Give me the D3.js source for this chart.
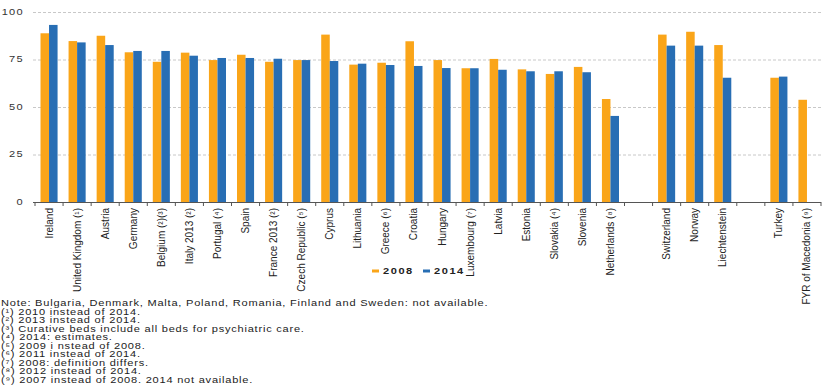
<!DOCTYPE html>
<html>
<head>
<meta charset="utf-8">
<style>
body { margin: 0; background: #fff; }
text { font-family: Arial, "Liberation Sans", sans-serif; }
.tick-y { font-size: 8.5px; fill: #333; letter-spacing: 1px; }
.cat { font-family: "Liberation Sans Narrow", "Arial Narrow", sans-serif; font-size: 10px; fill: #222; }
.legend { font-size: 8.5px; font-weight: bold; fill: #222; letter-spacing: 1.2px; }
.note { font-size: 8.5px; fill: #222; letter-spacing: 0.6px; }
</style>
</head>
<body>
<script src="https://cdn.jsdelivr.net/npm/d3@7"></script>
<script>

// categories ("" = empty slot between groups)
var categories = ["Ireland", "United Kingdom (\u00b9)", "Austria", "Germany", "Belgium (\u00b2)(\u00b3)",
  "Italy 2013 (\u00b2)", "Portugal (\u2074)", "Spain", "France 2013 (\u00b2)", "Czech Republic (\u2075)",
  "Cyprus", "Lithuania", "Greece (\u2076)", "Croatia", "Hungary", "Luxembourg (\u2077)", "Latvia",
  "Estonia", "Slovakia (\u2074)", "Slovenia", "Netherlands (\u2078)", "",
  "Switzerland", "Norway", "Liechtenstein", " ", "Turkey", "FYR of Macedonia (\u2079)"];

var values2008 = [88.8, 84.7, 87.5, 78.8, 73.8, 78.6, 74.7, 77.5, 73.8, 74.7,
  88.1, 72.3, 73.3, 84.6, 74.7, 70.4, 75.3, 69.8, 67.4, 71.1, 54.2, null,
  88.1, 89.6, 82.6, null, 65.4, 53.8];

var values2014 = [93.2, 84.0, 82.6, 79.5, 79.5, 77.0, 75.8, 75.8, 75.4, 74.7,
  74.2, 72.8, 72.1, 71.6, 70.5, 70.4, 69.6, 68.8, 68.8, 68.3, 45.3, null,
  82.3, 82.3, 65.4, null, 66.0, null];

var yTicks = [0, 25, 50, 75, 100];

var seriesNames = ["2008", "2014"];
var seriesColors = ["#faa519", "#286eb4"];

var notes = [
  "Note: Bulgaria, Denmark, Malta, Poland, Romania, Finland and Sweden: not available.",
  "(\u00b9) 2010 instead of 2014.",
  "(\u00b2) 2013 instead of 2014.",
  "(\u00b3) Curative beds include all beds for psychiatric care.",
  "(\u2074) 2014: estimates.",
  "(\u2075) 2009 i nstead of 2008.",
  "(\u2076) 2011 instead of 2014.",
  "(\u2077) 2008: definition differs.",
  "(\u2078) 2012 instead of 2014.",
  "(\u2079) 2007 instead of 2008. 2014 not available."
];

var width = 838, height = 386;
var margin = {left: 35, right: 17, top: 12, bottom: 184};

var svg = d3.select("body").append("svg")
    .attr("width", width)
    .attr("height", height);

var x = d3.scaleBand()
    .domain(categories)
    .range([margin.left, width - margin.right]);

var x1 = d3.scaleBand()
    .domain(seriesNames)
    .range([5.5, x.bandwidth() - 5.5]);

var y = d3.scaleLinear()
    .domain([0, 100])
    .range([height - margin.bottom, margin.top]);

// gridlines
svg.append("g")
  .selectAll("line")
  .data(yTicks.filter(function(d) { return d > 0; }))
  .enter().append("line")
    .attr("x1", margin.left - 2)
    .attr("x2", width - margin.right)
    .attr("y1", function(d) { return y(d) + 0.5; })
    .attr("y2", function(d) { return y(d) + 0.5; })
    .style("stroke", "#c8c8c8")
    .style("stroke-width", 1)
    .style("stroke-dasharray", "3,2");

// y tick labels (wide, short glyphs as in the original)
svg.append("g")
  .selectAll("text")
  .data(yTicks)
  .enter().append("text")
    .attr("class", "tick-y")
    .attr("transform", function(d) { return "translate(24," + y(d) + ") scale(1.3,1)"; })
    .attr("dy", "0.35em")
    .attr("text-anchor", "end")
    .text(function(d) { return d; });

// bars
var groups = svg.append("g")
  .selectAll("g")
  .data(categories.map(function(c, i) { return {cat: c, vals: [values2008[i], values2014[i]]}; }))
  .enter().append("g")
    .attr("transform", function(d) { return "translate(" + x(d.cat) + ",0)"; });

groups.selectAll("rect")
  .data(function(d) {
    return d.vals.map(function(v, j) { return {key: seriesNames[j], value: v, color: seriesColors[j]}; })
      .filter(function(e) { return e.value != null; });
  })
  .enter().append("rect")
    .attr("x", function(d) { return x1(d.key); })
    .attr("width", x1.bandwidth())
    .attr("y", function(d) { return y(d.value); })
    .attr("height", function(d) { return y(0) - y(d.value); })
    .style("fill", function(d) { return d.color; });

// x axis
var xAxis = d3.axisBottom(x).tickSize(4).tickFormat("");
var gx = svg.append("g")
    .attr("transform", "translate(0," + y(0) + ")")
    .call(xAxis);
gx.select(".domain").attr("stroke", "#555").attr("d", "M" + (margin.left - 2) + ",0.5H" + (width - margin.right));
gx.selectAll(".tick line")
    .attr("stroke", "#555")
    .attr("transform", "translate(" + (-x.bandwidth() / 2) + ",0)");
// closing tick on the right edge
gx.append("line")
    .attr("x1", width - margin.right).attr("x2", width - margin.right)
    .attr("y1", 0).attr("y2", 4)
    .attr("stroke", "#555");

// category labels
svg.append("g")
  .selectAll("text")
  .data(categories.filter(function(c) { return c.trim() != ""; }))
  .enter().append("text")
    .attr("class", "cat")
    .attr("transform", function(d) {
      return "translate(" + (x(d) + x.bandwidth() / 2 + 3.5) + "," + (y(0) + 6) + ") rotate(-90)";
    })
    .attr("text-anchor", "end")
    .text(function(d) { return d; });

// legend
var legend = svg.append("g")
  .selectAll("g")
  .data(seriesNames)
  .enter().append("g")
    .attr("transform", function(d, i) { return "translate(" + (372 + i * 51) + ",271)"; });

legend.append("rect")
    .attr("x", 0).attr("y", -1.5)
    .attr("width", 7).attr("height", 3)
    .style("fill", function(d, i) { return seriesColors[i]; });

legend.append("text")
    .attr("class", "legend")
    .attr("transform", "translate(11,3) scale(1.3,1)")
    .text(function(d) { return d; });

// notes
svg.append("g")
  .selectAll("text")
  .data(notes)
  .enter().append("text")
    .attr("class", "note")
    .attr("transform", function(d, i) { return "translate(1," + (306 + i * 8.5) + ") scale(1.3,1)"; })
    .text(function(d) { return d; });

</script>
</body>
</html>
